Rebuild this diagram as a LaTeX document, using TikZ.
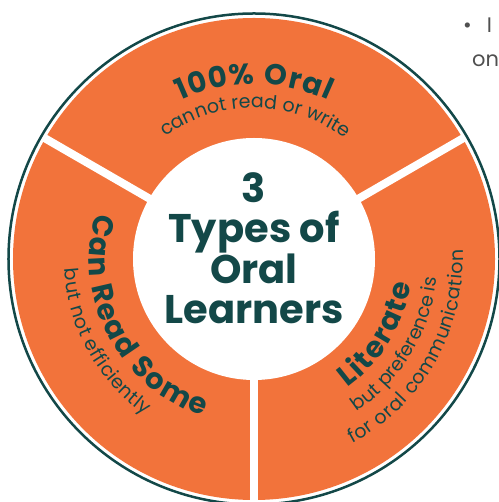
\documentclass[tikz,border=0pt]{standalone}
\usepackage{fontspec}
\setmainfont{Poppins}
\usepackage{xcolor}
\usetikzlibrary{decorations.text,positioning}
\definecolor{ringorange}{HTML}{F2733B}
\definecolor{darkteal}{HTML}{134848}
\definecolor{slidegray}{HTML}{505050}
\tikzset{%
	ring/.style     = {fill=ringorange}, % orange band
	hole/.style     = {fill=white}, % inner disc
	gap/.style      = {draw=white, line width=8pt}, % separators
	rim/.style      = {draw=darkteal, line width=2.5pt}, % outer rim
	heading/.style  = {decorate, decoration={text along path, text align=fit to path, text color=darkteal,
	                   text={|\bfseries\fontsize{29}{31}\selectfont|#1}}}, % bold arc text
	subline/.style  = {decorate, decoration={text along path, text align=fit to path, text color=darkteal,
	                   text={|\fontsize{19}{23}\selectfont|#1}}}, % small arc text
	bigtext/.style  = {text=darkteal, font=\bfseries\fontsize{40}{40}\selectfont, align=center}, % middle
	slidetext/.style = {text=slidegray, font=\fontsize{21}{25}\selectfont, anchor=base west, inner sep=0pt},
}
\begin{document}
\begin{tikzpicture}
		\useasboundingbox (-254pt,-243pt) rectangle (244pt,259pt);
		% band and rim
		\fill[ring] (0,0) circle[radius=241pt];
		\foreach \a in {30,150,270}
			\draw[gap] (0,0) -- (\a:244pt);
		\fill[hole] (0,0) circle[radius=121pt];
		\draw[rim] (0,0) circle[radius=245.5pt];
		% top sector
		\path[heading={100{\%} Oral}] (115:175pt) arc[start angle=115, end angle=65, radius=175pt];
		\path[subline={cannot read or write}] (126:151pt) arc[start angle=126, end angle=54, radius=151pt];
		% left sector
		\path[heading={Can Read Some}] (164:165pt) arc[start angle=164, end angle=252, radius=165pt];
		\path[subline={but not efficiently}] (183:190pt) arc[start angle=183, end angle=235, radius=190pt];
		% right sector
		\path[heading={Literate}] (-54:159pt) arc[start angle=-54, end angle=-9, radius=159pt];
		\path[subline={but preference is}] (-56:184pt) arc[start angle=-56, end angle=-6, radius=184pt];
		\path[subline={for oral communication}] (-62:209pt) arc[start angle=-62, end angle=2.5, radius=209pt];
		% middle
		\node[bigtext] (types) at (0pt,11pt) {3\\Types of\\Oral\\Learners};
		% slide text cut by the edge
		\node[slidetext] (bulletline) at (209pt,226pt) {•\hspace{15pt}I};
		\node[slidetext] (oneline) at (218pt,192pt) {one};
\end{tikzpicture}
\end{document}
